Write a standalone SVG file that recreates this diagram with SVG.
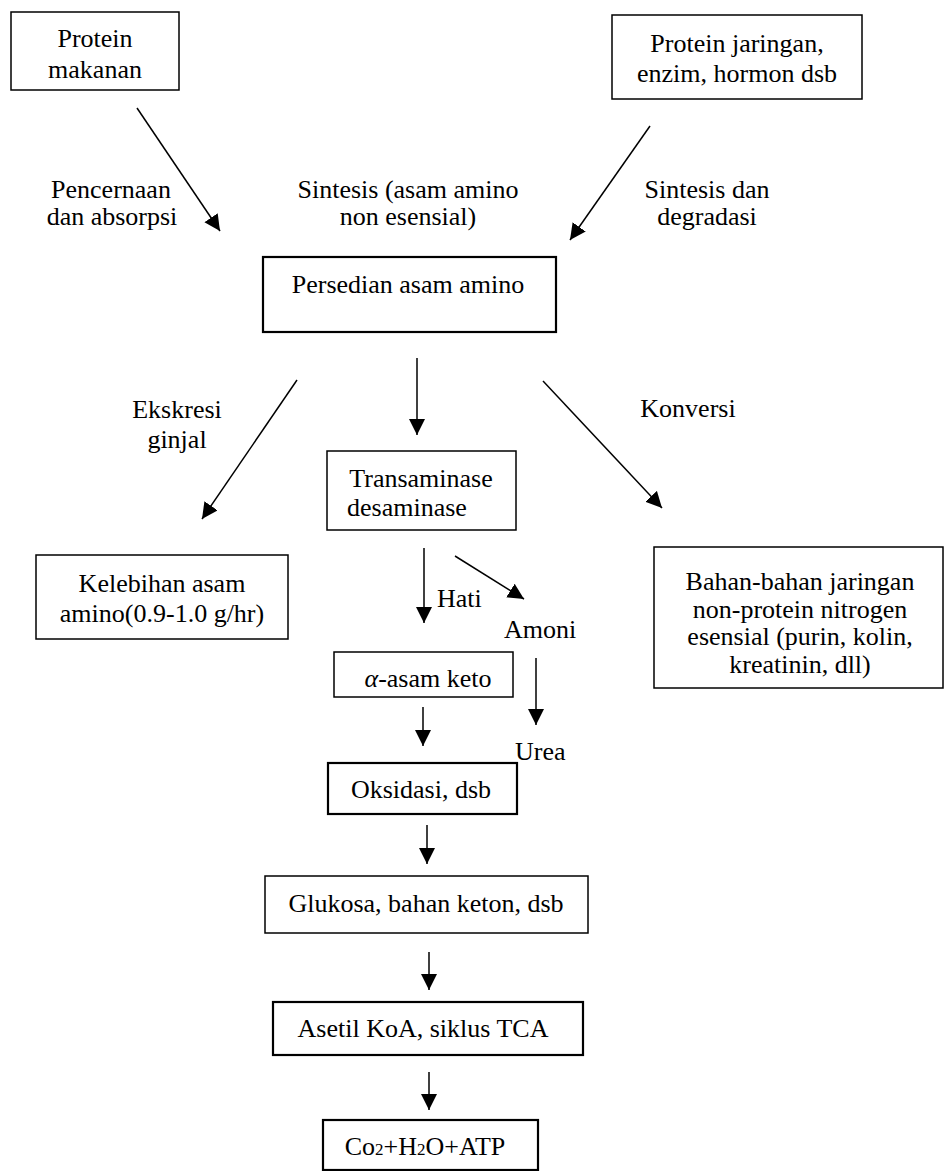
<svg xmlns="http://www.w3.org/2000/svg" width="945" height="1171" viewBox="0 0 945 1171">
<style>
.box{fill:#fff;stroke:#000;stroke-width:1.5}
.thick{stroke-width:2.2}
text{font-family:'Liberation Serif',Tinos,'Times New Roman','DejaVu Serif',serif;font-size:26px;fill:#000}
.c{text-anchor:middle}
.conn line{stroke:#000;stroke-width:1.5;marker-end:url(#ah)}
</style>
<defs>
<marker id="ah" markerUnits="userSpaceOnUse" markerWidth="18" markerHeight="18" refX="16" refY="8" orient="auto">
<path d="M0,0 L16,8 L0,16 z" fill="#000"/>
</marker>
</defs>
<rect width="945" height="1171" fill="#fff"/>

<g id="n-protein-makanan">
<rect class="box" x="11" y="12" width="168" height="78"/>
<text class="c" x="95" y="47">Protein</text>
<text class="c" x="95" y="78">makanan</text>
</g>

<g id="n-protein-jaringan">
<rect class="box" x="612" y="15" width="250" height="84"/>
<text class="c" x="737" y="52">Protein jaringan,</text>
<text class="c" x="737" y="82">enzim, hormon dsb</text>
</g>

<g id="n-persedian">
<rect class="box thick" x="263" y="257" width="293" height="75"/>
<text class="c" x="408" y="293">Persedian asam amino</text>
</g>

<g id="n-transaminase">
<rect class="box" x="327" y="451" width="189" height="79"/>
<text class="c" x="421" y="487">Transaminase</text>
<text x="347" y="516">desaminase</text>
</g>

<g id="n-kelebihan">
<rect class="box" x="36" y="555" width="252" height="84"/>
<text class="c" x="162" y="592">Kelebihan asam</text>
<text class="c" x="162" y="622">amino(0.9-1.0 g/hr)</text>
</g>

<g id="n-bahan">
<rect class="box" x="654" y="547" width="289" height="141"/>
<text class="c" x="800" y="590">Bahan-bahan jaringan</text>
<text class="c" x="800" y="618">non-protein nitrogen</text>
<text class="c" x="800" y="645">esensial (purin, kolin,</text>
<text class="c" x="800" y="673">kreatinin, dll)</text>
</g>

<g id="n-keto">
<rect class="box" x="334" y="652" width="179" height="45"/>
<text class="c" x="428" y="687"><tspan font-style="italic">α</tspan>-asam keto</text>
</g>

<g id="n-oksidasi">
<rect class="box thick" x="328" y="763" width="189" height="51"/>
<text class="c" x="421" y="798">Oksidasi, dsb</text>
</g>

<g id="n-glukosa">
<rect class="box" x="265" y="876" width="323" height="57"/>
<text class="c" x="426" y="912">Glukosa, bahan keton, dsb</text>
</g>

<g id="n-asetil">
<rect class="box thick" x="273" y="1002" width="310" height="53"/>
<text class="c" x="423" y="1037">Asetil KoA, siklus TCA</text>
</g>

<g id="n-co2">
<rect class="box thick" x="323" y="1120" width="215" height="50"/>
<text class="c" x="425" y="1155">Co<tspan font-size="17">2</tspan>+H<tspan font-size="17">2</tspan>O+ATP</text>
</g>

<g id="labels">
<text class="c" x="111" y="198">Pencernaan</text>
<text class="c" x="112" y="225">dan absorpsi</text>
<text class="c" x="408" y="198">Sintesis (asam amino</text>
<text class="c" x="408" y="225">non esensial)</text>
<text class="c" x="707" y="198">Sintesis dan</text>
<text class="c" x="707" y="225">degradasi</text>
<text class="c" x="177" y="418">Ekskresi</text>
<text class="c" x="177" y="448">ginjal</text>
<text class="c" x="688" y="417">Konversi</text>
<text x="437" y="607">Hati</text>
<text x="504" y="638">Amoni</text>
<text x="515" y="760">Urea</text>
</g>

<g class="conn" id="connectors">
<line x1="137" y1="108" x2="220" y2="231"/>
<line x1="650" y1="126" x2="570" y2="240"/>
<line x1="297" y1="380" x2="202" y2="519"/>
<line x1="417" y1="358" x2="417" y2="435"/>
<line x1="543" y1="381" x2="662" y2="508"/>
<line x1="424" y1="548" x2="424" y2="623"/>
<line x1="455" y1="556" x2="524" y2="599"/>
<line x1="536" y1="658" x2="536" y2="725"/>
<line x1="423" y1="707" x2="423" y2="746"/>
<line x1="427" y1="825" x2="427" y2="864"/>
<line x1="429" y1="952" x2="429" y2="990"/>
<line x1="429" y1="1072" x2="429" y2="1110"/>
</g>
</svg>
